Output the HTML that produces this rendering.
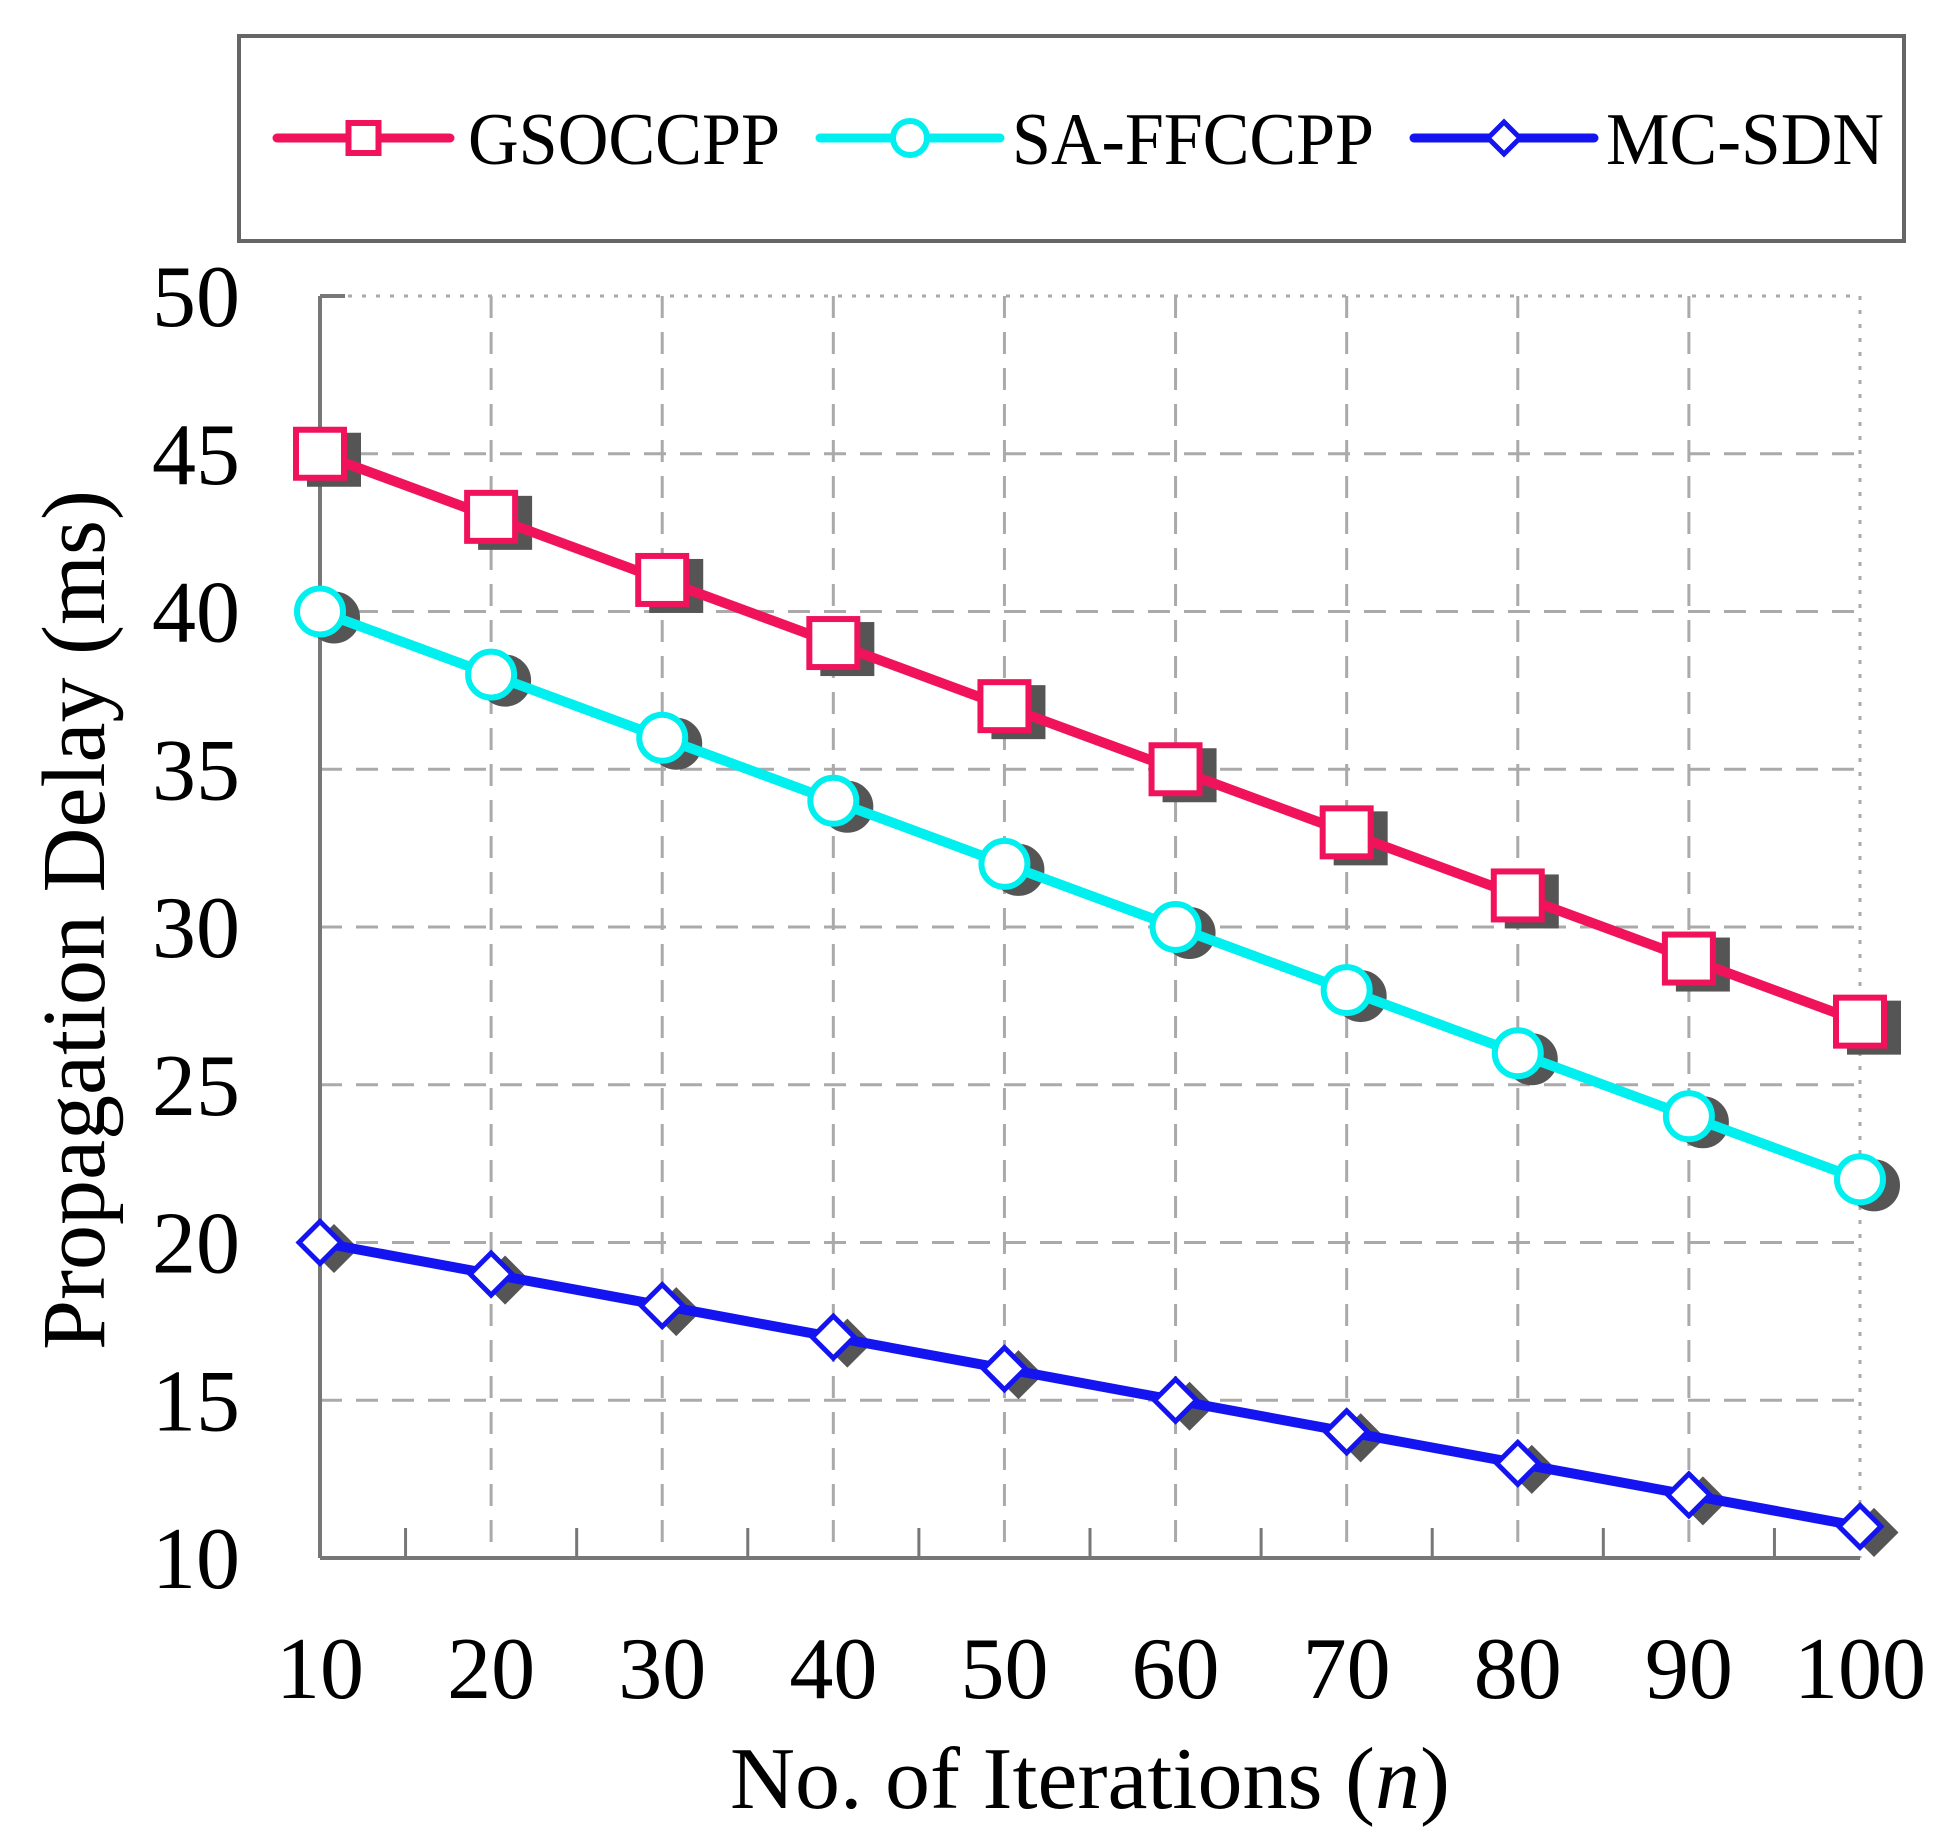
<!DOCTYPE html>
<html><head><meta charset="utf-8"><style>
html,body{margin:0;padding:0;background:#fff;}
svg{display:block;}
text{font-family:"Liberation Serif",serif;fill:#000;}
</style></head><body>
<svg id="chart" width="1952" height="1840" viewBox="0 0 1952 1840" xmlns="http://www.w3.org/2000/svg">
<g id="legend">
<rect x="239" y="36" width="1665" height="205" fill="#fff" stroke="#666" stroke-width="4"/>
</g>
<g id="grid"></g>
<g id="axes"></g>
<g id="series"></g>
<text x="1090" y="1808" font-size="88" text-anchor="middle" textLength="720" lengthAdjust="spacingAndGlyphs">No. of Iterations (<tspan font-style="italic">n</tspan>)</text>
<text transform="translate(104,920) rotate(-90)" font-size="90" text-anchor="middle" textLength="860" lengthAdjust="spacingAndGlyphs">Propagation Delay (ms)</text>
</svg>
<script>
const categories = [10,20,30,40,50,60,70,80,90,100];
const gsoccpp = [45,43,41,39,37,35,33,31,29,27];
const saffccpp = [40,38,36,34,32,30,28,26,24,22];
const mcsdn = [20,19,18,17,16,15,14,13,12,11];
const yTicks = [10,15,20,25,30,35,40,45,50];
const xTickLabels = ["10","20","30","40","50","60","70","80","90","100"];

const NS = "http://www.w3.org/2000/svg";
const X0 = 320, X1 = 1860, Y0 = 1558, Y1 = 296;
function xs(v){ return X0 + (v-10)/(100-10)*(X1-X0); }
function ys(v){ return Y0 - (v-10)/(50-10)*(Y0-Y1); }
function mk(tag, attrs, parent){ const e=document.createElementNS(NS,tag); for(const k in attrs) e.setAttribute(k,attrs[k]); parent.appendChild(e); return e; }

const grid = document.getElementById('grid');
const axes = document.getElementById('axes');
const series = document.getElementById('series');

yTicks.forEach(t=>{
  if(t>10){
    const l = mk('line',{x1:X0,x2:X1,y1:ys(t),y2:ys(t),stroke:'#aaa','stroke-width':3,'stroke-dasharray':t===50?'4 10':'22 14'},grid);
    
    
  }
  const tx = mk('text',{x:240,y:ys(t)+30,'font-size':88,'text-anchor':'end'},axes);
  tx.textContent = t;
  
  
});
categories.forEach((c,i)=>{
  if(i>0){
    const l = mk('line',{x1:xs(c),x2:xs(c),y1:Y1,y2:Y0,stroke:'#aaa','stroke-width':3,'stroke-dasharray':c===100?'4 10':'22 14'},grid);
    
    
  }
  const tx = mk('text',{x:xs(c),y:1698,'font-size':88,'text-anchor':'middle'},axes);
  tx.textContent = xTickLabels[i];
  
  
  if(i<categories.length-1){
    const m = mk('line',{x1:xs(c+5),x2:xs(c+5),y1:Y0,y2:Y0-30,stroke:'#777','stroke-width':3},axes);
    
    
  }
});
const yaxis = mk('line',{x1:X0,x2:X0,y1:Y1,y2:Y0,stroke:'#777','stroke-width':4},axes);


const xaxis = mk('line',{x1:X0,x2:X1,y1:Y0,y2:Y0,stroke:'#777','stroke-width':4},axes);


const ytop = mk('line',{x1:X0,x2:X0+25,y1:Y1,y2:Y1,stroke:'#777','stroke-width':4},axes);



function marker(type, cx, cy, color, fill, size, parent){
  let e;
  if(type==='square') e = mk('rect',{x:cx-size/2,y:cy-size/2,width:size,height:size,fill:fill,stroke:color,'stroke-width':6},parent);
  else if(type==='circle') e = mk('circle',{cx:cx,cy:cy,r:size/2,fill:fill,stroke:color,'stroke-width':6},parent);
  else e = mk('polygon',{points:`${cx},${cy-size/2} ${cx+size/2},${cy} ${cx},${cy+size/2} ${cx-size/2},${cy}`,fill:fill,stroke:color,'stroke-width':5},parent);
  return e;
}

const defs = [
  {name:'gsoccpp', data:gsoccpp, color:'#f0135c', type:'square', size:48},
  {name:'sa-ffccpp', data:saffccpp, color:'#00f0f0', type:'circle', size:46},
  {name:'mc-sdn', data:mcsdn, color:'#1414f0', type:'diamond', size:42}
];
defs.forEach(d=>{
  const g = mk('g',{},series);
  
  
  d.data.forEach((v,i)=>{
    const s = marker(d.type, xs(categories[i])+14, ys(v)+6, '#555', '#555', d.size, g);
    
    
  });
  const pts = d.data.map((v,i)=>xs(categories[i])+','+ys(v)).join(' ');
  const pl = mk('polyline',{points:pts,fill:'none',stroke:d.color,'stroke-width':10},g);
  
  
  d.data.forEach((v,i)=>{
    const m = marker(d.type, xs(categories[i]), ys(v), d.color, '#fff', d.size, g);
    
    
  });
});

const legend = document.getElementById('legend');
const legendItems = [
  {label:'GSOCCPP', x1:277, x2:450, tx:468, w:312},
  {label:'SA-FFCCPP', x1:820, x2:1000, tx:1012, w:362},
  {label:'MC-SDN', x1:1414, x2:1594, tx:1606, w:278}
];
legendItems.forEach((it,i)=>{
  const d = defs[i];
  const g = mk('g',{},legend);
  
  
  mk('line',{x1:it.x1,x2:it.x2,y1:138,y2:138,stroke:d.color,'stroke-width':9,'stroke-linecap':'round'},g);
  const sz = d.type==='diamond'?32:d.type==='circle'?34:30;
  marker(d.type,(it.x1+it.x2)/2,138,d.color,'#fff',sz,g);
  const t = mk('text',{x:it.tx,y:164,'font-size':74,textLength:it.w,lengthAdjust:'spacingAndGlyphs'},g);
  t.textContent = it.label;
});
</script>
</body></html>
